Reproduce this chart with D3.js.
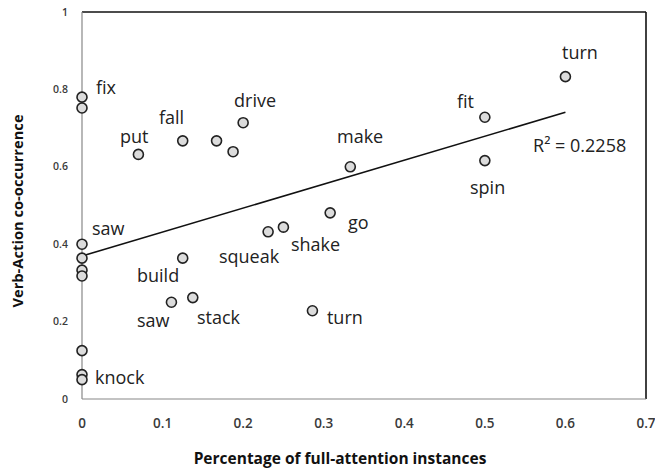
<!DOCTYPE html>
<html><head><meta charset="utf-8">
<script src="https://cdn.jsdelivr.net/npm/d3@7"></script>
<style>body{margin:0;background:#fff}svg{display:block}</style>
</head><body><svg id="c" width="655" height="471"></svg>
<script>
// Scatter points (x = percentage of full-attention instances, y = verb-action co-occurrence)
const pointX = [0,0,0,0,0,0,0,0,0, 0.07,0.125,0.167,0.1875,0.2,0.333, 0.6,0.5,0.5, 0.125,0.111,0.1375, 0.231,0.25,0.308,0.286];
const pointY = [0.78,0.752,0.40,0.364,0.333,0.318,0.125,0.063,0.05, 0.632,0.667,0.667,0.639,0.714,0.600, 0.833,0.728,0.616, 0.364,0.25,0.262, 0.432,0.444,0.481,0.228];
// Word labels and their anchor (left edge, vertical centre) in data units
const labelText = ["fix","put","fall","drive","make","turn","fit","spin","saw","build","saw","stack","squeak","shake","go","turn","knock"];
const labelX = [0.0174,0.0472,0.0956,0.1887,0.3165,0.5958,0.4654,0.4816,0.0124,0.0683,0.0683,0.1427,0.170,0.2594,0.330,0.304,0.0161];
const labelY = [0.804,0.677,0.726,0.770,0.677,0.894,0.767,0.545,0.439,0.318,0.2016,0.209,0.367,0.398,0.455,0.209,0.054];
// Linear trend line endpoints and R² annotation
const trendX = [0, 0.6];
const trendY = [0.3695, 0.741];
const r2Text = "R\u00B2 = 0.2258";
const r2X = 0.5598, r2Y = 0.654;
// Axis ticks
const xTicks = [0,0.1,0.2,0.3,0.4,0.5,0.6,0.7];
const xTickLabels = ["0","0.1","0.2","0.3","0.4","0.5","0.6","0.7"];
const yTicks = [0,0.2,0.4,0.6,0.8,1];
const yTickLabels = ["0","0.2","0.4","0.6","0.8","1"];

const svg = d3.select("#c");
const x = d3.scaleLinear().domain([0,0.7]).range([82,646]);
const y = d3.scaleLinear().domain([0,1]).range([399,12]);
const font = "'Open Sans', sans-serif";

// frame: top/right black, left/bottom grey
svg.append("line").attr("x1",x(0)).attr("x2",x(0.7)).attr("y1",y(1)).attr("y2",y(1)).attr("stroke","#111").attr("stroke-width",1.6);
svg.append("line").attr("x1",x(0.7)).attr("x2",x(0.7)).attr("y1",y(1)).attr("y2",y(0)).attr("stroke","#111").attr("stroke-width",1.6);
svg.append("line").attr("x1",x(0)).attr("x2",x(0.7)).attr("y1",y(0)).attr("y2",y(0)).attr("stroke","#888").attr("stroke-width",1.2);
svg.append("line").attr("x1",x(0)).attr("x2",x(0)).attr("y1",y(1)).attr("y2",y(0)).attr("stroke","#888").attr("stroke-width",1.2);

// y tick labels
svg.selectAll(".yt").data(yTicks).enter().append("text")
  .attr("x",68).attr("y",d=>y(d)).attr("dy","0.35em").attr("text-anchor","end")
  .attr("font-family",font).attr("font-size",10.5).attr("font-weight",600).attr("fill","#3a3a3a")
  .text((d,i)=>yTickLabels[i]);
// x tick labels
svg.selectAll(".xt").data(xTicks).enter().append("text")
  .attr("x",d=>x(d)).attr("y",423).attr("dy","0.35em").attr("text-anchor","middle")
  .attr("font-family",font).attr("font-size",13.5).attr("font-weight",600).attr("fill","#3a3a3a")
  .text((d,i)=>xTickLabels[i]);

// axis titles
svg.append("text").attr("x",340).attr("y",459).attr("dy","0.35em").attr("text-anchor","middle")
  .attr("font-family",font).attr("font-size",15.5).attr("font-weight","bold").attr("fill","#111")
  .text("Percentage of full-attention instances");
svg.append("text").attr("transform","translate(18,211) rotate(-90)").attr("dy","0.35em").attr("text-anchor","middle")
  .attr("font-family",font).attr("font-size",14.7).attr("font-weight","bold").attr("fill","#111")
  .text("Verb-Action co-occurrence");

// trend line
svg.append("line").attr("x1",x(trendX[0])).attr("y1",y(trendY[0])).attr("x2",x(trendX[1])).attr("y2",y(trendY[1]))
  .attr("stroke","#111").attr("stroke-width",1.6);

// points
svg.selectAll(".pt").data(pointX).enter().append("circle")
  .attr("cx",d=>x(d)).attr("cy",(d,i)=>y(pointY[i])).attr("r",5)
  .attr("fill","#dcdcdc").attr("stroke","#222").attr("stroke-width",1.6);

// labels
svg.selectAll(".lb").data(labelText).enter().append("text")
  .attr("x",(d,i)=>x(labelX[i])).attr("y",(d,i)=>y(labelY[i])).attr("dy","0.35em")
  .attr("font-family",font).attr("font-size",18).attr("fill","#222")
  .text(d=>d);
svg.append("text").attr("x",x(r2X)).attr("y",y(r2Y)).attr("dy","0.35em")
  .attr("font-family",font).attr("font-size",18).attr("fill","#222").text(r2Text);
</script></body></html>
